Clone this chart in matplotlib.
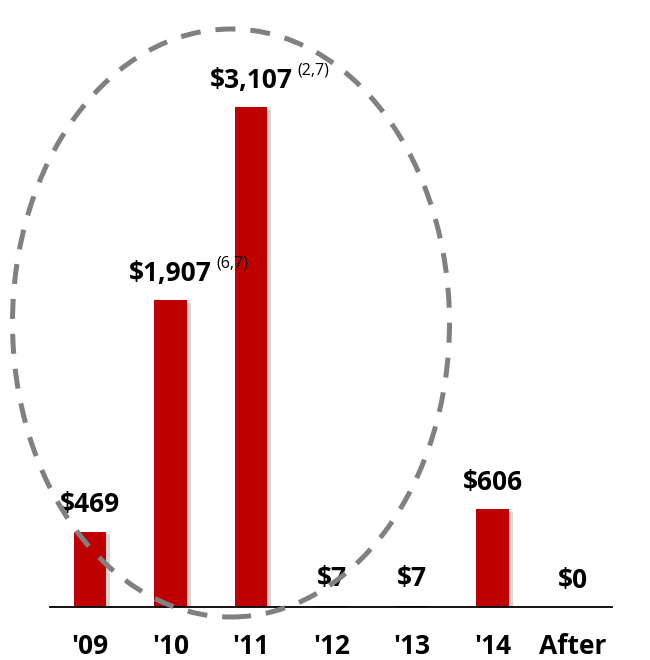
import matplotlib

matplotlib.use("Agg")
import matplotlib.pyplot as plt
import matplotlib.patheffects as pe
from matplotlib.patches import Ellipse

# values ($ millions)
categories = ["'09", "'10", "'11", "'12", "'13", "'14", "After"]
values = [469, 1907, 3107, 7, 7, 606, 0]
value_labels = ["$469", "$1,907", "$3,107", "$7", "$7", "$606", "$0"]
footnotes = ["", "(6,7)", "(2,7)", "", "", "", ""]

RED = "#C00000"
plt.rcParams["font.family"] = ["Open Sans", "DejaVu Sans"]

fig = plt.figure(figsize=(6.5, 6.6), dpi=100)
# axes spans the baseline: x 50..612 px, bottom at y=607 px
ax = fig.add_axes([50 / 650, 53 / 660, 562 / 650, 607 / 660])

x = range(len(categories))
bars = ax.bar(x, values, width=0.40, color=RED, zorder=2)
for b in bars:
    b.set_path_effects(
        [pe.withSimplePatchShadow(offset=(3, -2), shadow_rgbFace="#999999", alpha=0.4), pe.Normal()]
    )

ax.set_xlim(-0.497, 6.484)
ax.set_ylim(0, 3107 * 607 / 500)

for i, (v, lab, fn) in enumerate(zip(values, value_labels, footnotes)):
    t = ax.annotate(
        lab, xy=(i, v), xytext=(0, 14), textcoords="offset points",
        ha="center", va="baseline", fontsize=19, fontweight="bold",
    )
    if fn:
        ax.annotate(
            fn, xy=(1, 1), xycoords=t, xytext=(3.5, 3), textcoords="offset points",
            ha="left", va="top", fontsize=11.5,
        )

ax.set_xticks(list(x))
ax.set_xticklabels(categories, fontsize=19, fontweight="bold")
ax.tick_params(axis="x", length=0, pad=19)
ax.set_yticks([])
for side in ("top", "right", "left"):
    ax.spines[side].set_visible(False)
ax.spines["bottom"].set_linewidth(1.3)

# dashed ellipse highlighting '09 - '11
ell = Ellipse(
    (231 / 650, 1 - 323 / 660), 437 / 650, 588 / 660,
    transform=fig.transFigure, fill=False, edgecolor="#808080",
    linewidth=3.6, linestyle=(0, (4, 3)), zorder=5, clip_on=False,
)
ell.set_capstyle("butt")
fig.add_artist(ell)

fig.savefig("out.png", dpi=100)
